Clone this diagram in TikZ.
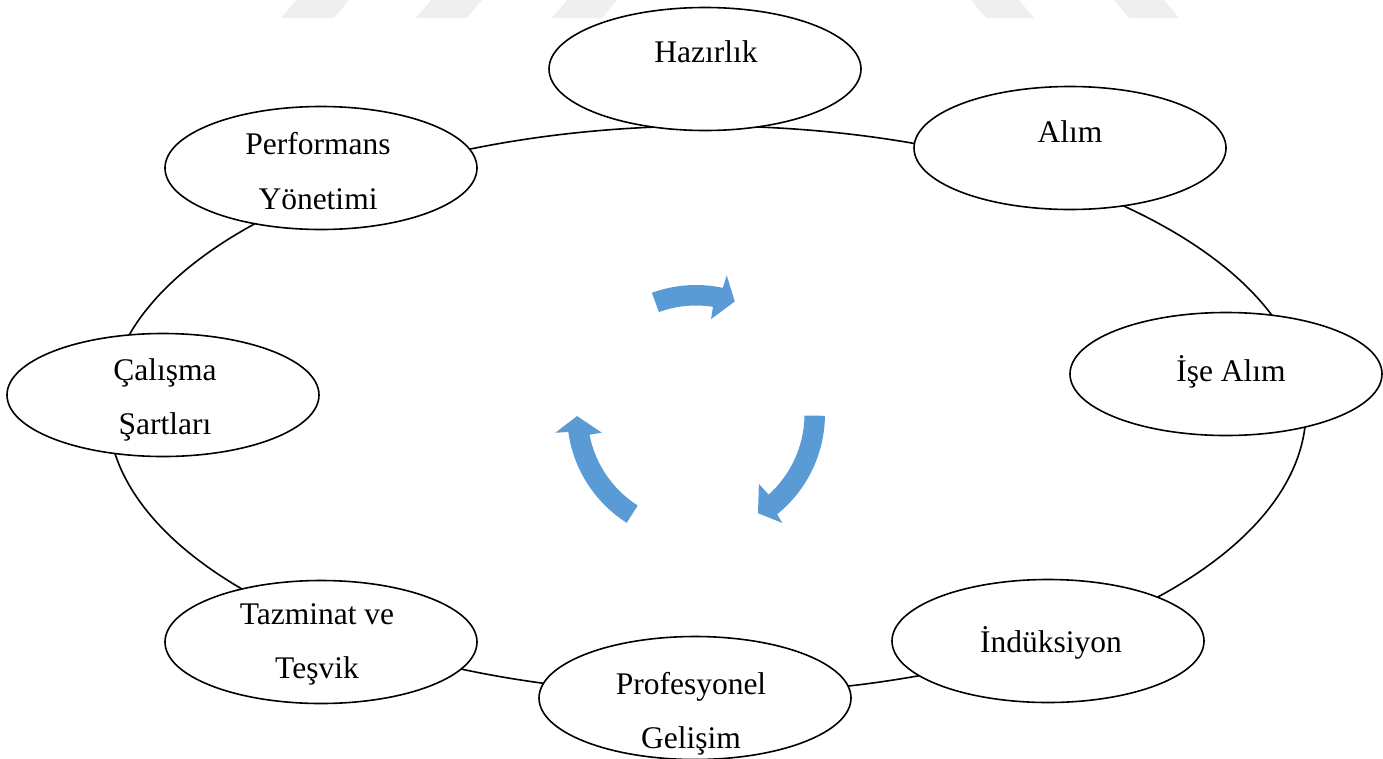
\documentclass[tikz,border=0pt]{standalone}
\usepackage{fontspec}
\setmainfont{Liberation Serif}
\usetikzlibrary{shapes.geometric}
\definecolor{cycleblue}{HTML}{5B9BD5}
\definecolor{wmgrey}{HTML}{EFEFEF}
\tikzset{
  stage/.style={ellipse, draw=black, line width=1.6pt, fill=white,
                minimum width=312pt, minimum height=123pt, inner sep=0pt},
  stagetext/.style={anchor=base, inner sep=0pt,
                    font=\fontsize{31.5}{55}\selectfont},
  loopring/.style={ellipse, draw=black, line width=1.6pt,
                   minimum width=1198pt, minimum height=568pt, inner sep=0pt},
  turnarrow/.style={fill=cycleblue, draw=none},
  wmshape/.style={fill=wmgrey, draw=none}
}
\begin{document}
\begin{tikzpicture}[x=1pt,y=-1pt]
\useasboundingbox (0,0) rectangle (1383,758);

% faint chevron tips along the top edge
\fill[wmshape] (296,0) -- (349,0) -- (334,18) -- (281,18) -- cycle;
\fill[wmshape] (431,0) -- (482,0) -- (467,18) -- (416,18) -- cycle;
\fill[wmshape] (567,0) -- (617,0) -- (602,18) -- (552,18) -- cycle;
\fill[wmshape] (971,0) -- (1019,0) -- (1034,18) -- (986,18) -- cycle;
\fill[wmshape] (1114,0) -- (1164,0) -- (1179,18) -- (1129,18) -- cycle;

% the ring joining the stages
\node[loopring] (ring) at (707,410) {};

% stages
\node[stage] (haz)  at (705,69)   {};
\node[stage] (alim) at (1070,148) {};
\node[stage] (ise)  at (1226,374) {};
\node[stage] (ind)  at (1048,641) {};
\node[stage] (prof) at (695,698)  {};
\node[stage] (taz)  at (321,642)  {};
\node[stage] (cal)  at (163,395)  {};
\node[stage] (perf) at (321,168)  {};

% stage labels
\node[stagetext] (hazT)  at (706,62)   {Hazırlık};
\node[stagetext] (alimT) at (1070,142) {Alım};
\node[stagetext] (iseT)  at (1231,381) {İşe Alım};
\node[stagetext] (indT)  at (1051,652) {İndüksiyon};
\node[stagetext] (profT1) at (691,694) {Profesyonel};
\node[stagetext] (profT2) at (691,748) {Gelişim};
\node[stagetext] (tazT1) at (317,624)  {Tazminat ve};
\node[stagetext] (tazT2) at (317,678)  {Teşvik};
\node[stagetext] (calT1) at (165,380)  {Çalışma};
\node[stagetext] (calT2) at (165,434)  {Şartları};
\node[stagetext] (perfT1) at (318,154) {Performans};
\node[stagetext] (perfT2) at (318,209) {Yönetimi};

% three curved block arrows turning clockwise
\begin{scope}[shift={(696,414)}]
  \fill[turnarrow] (110:108.5pt) arc[start angle=110, end angle=81, radius=108.5pt]
        -- (81:96pt) -- (71:119pt) -- (77.5:142pt) -- (78:129pt)
        arc[start angle=78, end angle=110, radius=129pt] -- cycle;
  \fill[turnarrow] (-0.8:108.5pt) arc[start angle=-0.8, end angle=-48, radius=108.5pt]
        -- (-48:94pt) -- (-58:117pt) -- (-51.6:139pt) -- (-51:129pt)
        arc[start angle=-51, end angle=-0.8, radius=129pt] -- cycle;
  \fill[turnarrow] (237.5:108.5pt) arc[start angle=237.5, end angle=191, radius=108.5pt]
        -- (191.2:96pt) -- (181:119pt) -- (187.6:142pt) -- (188:129pt)
        arc[start angle=188, end angle=237.5, radius=129pt] -- cycle;
\end{scope}
\end{tikzpicture}
\end{document}
